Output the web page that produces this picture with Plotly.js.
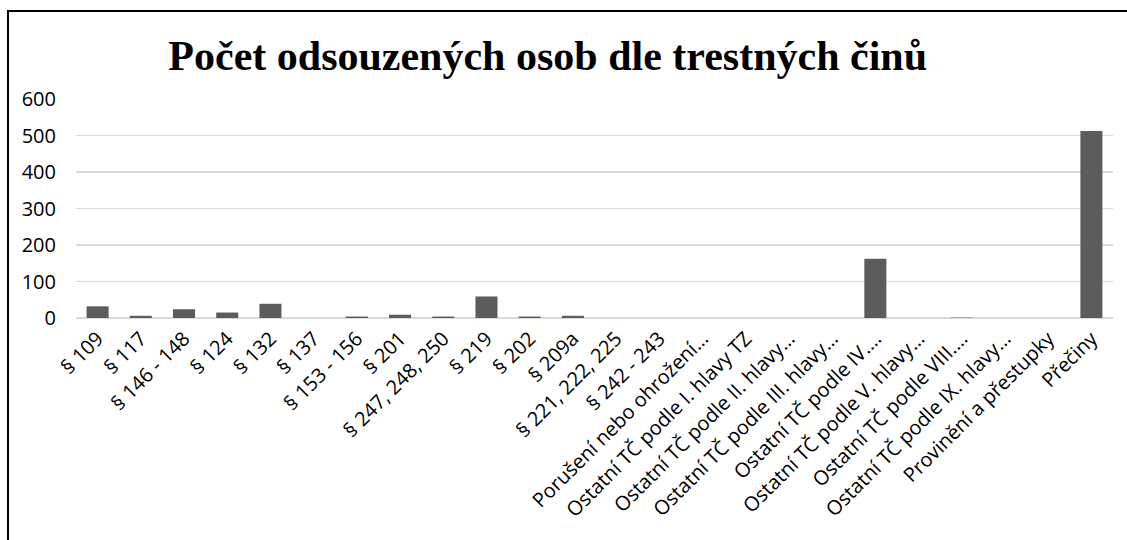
<!DOCTYPE html>
<html>
<head>
<meta charset="utf-8">
<script src="https://cdn.plot.ly/plotly-3.0.1.min.js"></script>
<style>
  html, body { margin: 0; padding: 0; background: #fff; }
  #frame { position: absolute; left: 7px; top: 10px; width: 1200px; height: 600px;
           border-left: 2px solid #000; border-top: 2px solid #000; }
  #chart { position: absolute; left: 0; top: 0; width: 1127px; height: 540px; }
</style>
</head>
<body>
<div id="frame"></div>
<div id="chart"></div>
<script>
const categories = [
  "§ 109", "§ 117", "§ 146 - 148", "§ 124", "§ 132", "§ 137", "§ 153 - 156",
  "§ 201", "§ 247, 248, 250", "§ 219", "§ 202", "§ 209a", "§ 221, 222, 225",
  "§ 242 - 243", "Porušení nebo ohrožení…", "Ostatní TČ podle I. hlavy TZ",
  "Ostatní TČ podle II. hlavy…", "Ostatní TČ podle III. hlavy…",
  "Ostatní TČ podle IV.…", "Ostatní TČ podle V. hlavy…",
  "Ostatní TČ podle VIII.…", "Ostatní TČ podle IX. hlavy…",
  "Provinění a přestupky", "Přečiny"
];
const values = [32, 6, 24, 15, 39, 0, 4, 9, 4, 59, 4, 6, 0, 0, 0, 0, 0, 0, 162, 0, 1, 0, 0, 512];
const yTicks = [0, 100, 200, 300, 400, 500, 600];

const trace = {
  type: "bar",
  x: categories,
  y: values,
  marker: { color: "#5c5c5c", line: { width: 0 } },
  hoverinfo: "x+y"
};

const layout = {
  width: 1127,
  height: 540,
  paper_bgcolor: "rgba(0,0,0,0)",
  plot_bgcolor: "rgba(0,0,0,0)",
  margin: { l: 76, r: 14, t: 99, b: 222 },
  bargap: 0.49,
  showlegend: false,
  title: {
    text: "<b>Počet odsouzených osob dle trestných činů</b>",
    font: { family: "Liberation Serif, Times New Roman, serif", size: 42, color: "#000" },
    x: 0.486, xanchor: "center",
    y: 0.897, yanchor: "middle"
  },
  xaxis: {
    type: "category",
    tickangle: -45,
    tickfont: { family: "Open Sans, Lato, sans-serif", size: 20, color: "#000" },
    showgrid: false,
    showline: false,
    ticks: "",
    ticklabelstandoff: 4,
    automargin: false,
    fixedrange: true
  },
  yaxis: {
    range: [0, 600],
    tickvals: yTicks,
    ticktext: yTicks.map(String),
    tickfont: { family: "Open Sans, Lato, sans-serif", size: 20, color: "#000" },
    showgrid: true,
    gridcolor: "#d9d9d9",
    gridwidth: 1.8,
    zeroline: true,
    zerolinecolor: "#d9d9d9",
    zerolinewidth: 2.2,
    showline: false,
    ticks: "",
    ticklabelstandoff: 19,
    automargin: false,
    fixedrange: true
  }
};

Plotly.newPlot("chart", [trace], layout, { displayModeBar: false, staticPlot: true });
</script>
</body>
</html>
